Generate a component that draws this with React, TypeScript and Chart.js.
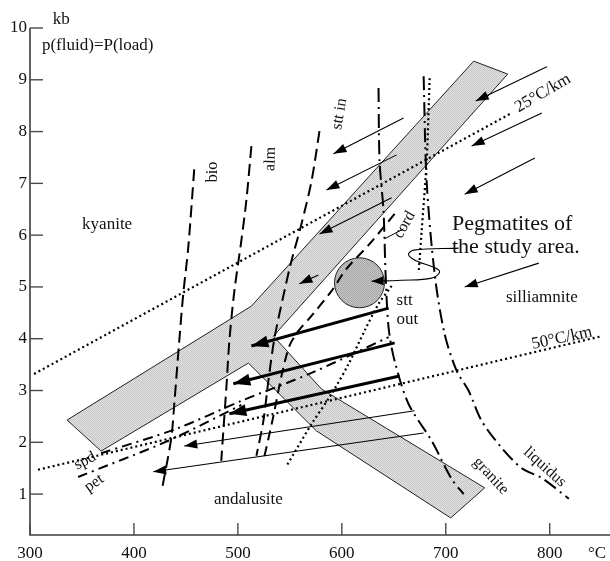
import React, { useEffect, useRef } from 'react';
import { Chart, registerables } from 'chart.js';

Chart.register(...registerables);

type Pt = [number, number];

// ---- axes ----
const X_MIN = 300;
const X_MAX = 858;
const Y_MIN = 0.21;
const Y_MAX = 10;
const xTickValues = [300, 400, 500, 600, 700, 800];
const yTickValues = [1, 2, 3, 4, 5, 6, 7, 8, 9, 10];

// ---- data (T in °C, P in kb) ----
// union of the two grey aluminosilicate bands
const aluminosilicateBands: Pt[] = [
  [335.7, 2.43], [513.0, 4.63], [726.9, 9.36], [759.6, 9.11], [534.2, 4.05],
  [580.4, 3.03], [737.5, 1.12], [704.7, 0.54], [575.6, 2.22], [510.1, 3.53],
  [368.4, 1.83], [335.7, 2.43],
];
const pegmatiteCircle: Pt = [617.0, 5.08];

const geotherm25: Pt[] = [[303.9, 3.32], [763.5, 8.36]];
const geotherm50: Pt[] = [[307.7, 1.47], [850.2, 4.05]];

const bioIsograd: Pt[] = [[458.0, 7.27], [452.2, 5.75], [447.4, 4.86], [443.6, 3.96], [438.8, 2.74], [435.9, 2.08], [427.2, 1.12]];
const almIsograd: Pt[] = [[513.0, 7.72], [508.1, 6.66], [503.3, 5.89], [496.6, 4.92], [491.8, 3.96], [488.9, 3.05], [486.0, 2.22], [484.0, 1.64]];
const sttInIsograd: Pt[] = [[578.5, 8.01], [570.8, 7.04], [561.1, 6.21], [551.5, 5.5], [544.8, 4.92], [535.1, 4.0], [529.3, 3.18], [524.5, 2.41], [517.8, 1.74]];
const cordCurve: Pt[] = [[650.8, 6.41], [626.7, 5.83], [604.5, 5.35], [590.0, 4.92], [570.8, 4.44], [558.2, 4.15], [549.6, 3.86], [541.9, 3.28], [534.2, 2.51], [524.5, 1.64]];
const graniteSolidus: Pt[] = [[635.3, 8.84], [636.3, 7.43], [640.1, 6.47], [642.1, 5.25], [645.0, 4.21], [650.8, 3.57], [664.2, 2.74], [686.4, 2.03], [705.7, 1.29], [717.2, 1.0]];
const liquidus: Pt[] = [[678.7, 9.07], [681.6, 7.04], [689.3, 5.25], [698.9, 4.09], [710.5, 3.38], [722.1, 2.99], [734.6, 2.41], [753.9, 1.89], [773.1, 1.5], [792.4, 1.31], [818.4, 0.91]];
const muscoviteUpper: Pt[] = [[684.5, 9.03], [681.6, 7.43], [676.8, 6.08], [673.9, 5.27]];
const muscoviteLower: Pt[] = [[647.9, 5.02], [635.3, 4.67], [621.8, 4.15], [606.4, 3.51], [590.0, 2.93], [570.8, 2.35], [546.7, 1.54]];
const spdCurve: Pt[] = [[368.4, 1.79], [440.7, 2.26], [503.3, 2.8], [570.8, 3.34], [645.0, 4.03]];
const petCurve: Pt[] = [[346.3, 1.33], [433.0, 2.03], [503.3, 2.72]];
const cordLeader: Pt[] = [[641.1, 5.93], [659.4, 6.12]];
const pegmatiteLeader: Pt[] = [[712.4, 5.75], [669.1, 5.71], [664.2, 5.62], [672.0, 5.5], [688.3, 5.38], [694.1, 5.29], [686.4, 5.17], [657.5, 5.13], [628.6, 5.11]];

const thinArrows: Pt[][] = [
  [[797.2, 9.25], [728.8, 8.59]],
  [[792.4, 8.36], [724.9, 7.72]],
  [[785.7, 7.49], [718.2, 6.79]],
  [[659.4, 8.26], [592.0, 7.57]],
  [[652.7, 7.55], [585.2, 6.87]],
  [[647.9, 6.72], [578.5, 6.02]],
  [[577.5, 5.23], [559.2, 5.06]],
  [[789.5, 5.46], [718.2, 5.0]],
  [[670.0, 2.61], [448.4, 1.93]],
  [[678.7, 2.18], [418.5, 1.43]],
];
const thickArrows: Pt[][] = [
  [[645.0, 4.59], [513.0, 3.86]],
  [[650.8, 3.92], [495.6, 3.13]],
  [[655.6, 3.28], [491.8, 2.55]],
];

type Note = { text: string; t: number; p: number; rot?: number; size?: number; align?: CanvasTextAlign };
const notes: Note[] = [
  { text: 'kb', t: 330, p: 10.17 },
  { text: 'p(fluid)=P(load)', t: 311.5, p: 9.67, align: 'left' },
  { text: 'kyanite', t: 374.2, p: 6.21 },
  { text: 'andalusite', t: 510.1, p: 0.89 },
  { text: 'silliamnite', t: 792.4, p: 4.79 },
  { text: 'stt', t: 652.7, p: 4.73, align: 'left' },
  { text: 'out', t: 652.7, p: 4.38, align: 'left' },
  { text: 'Pegmatites of', t: 706.0, p: 6.21, size: 22, align: 'left' },
  { text: 'the study area.', t: 706.0, p: 5.77, size: 22, align: 'left' },
  { text: 'bio', t: 475.4, p: 7.22, rot: -90, size: 16 },
  { text: 'alm', t: 531.3, p: 7.47, rot: -88, size: 16 },
  { text: 'stt in', t: 597.8, p: 8.34, rot: -80, size: 16 },
  { text: 'cord', t: 660.4, p: 6.2, rot: -60, size: 16 },
  { text: 'spd', t: 353.0, p: 1.64, rot: -28, size: 16 },
  { text: 'pet', t: 361.7, p: 1.21, rot: -35, size: 16 },
  { text: '25°C/km', t: 793.4, p: 8.74, rot: -30 },
  { text: '50°C/km', t: 811.7, p: 4.01, rot: -12 },
  { text: 'liquidus', t: 795.3, p: 1.52, rot: 42, size: 16 },
  { text: 'granite', t: 743.3, p: 1.35, rot: 47, size: 16 },
  { text: '°C', t: 845.5, p: -0.14 },
];

const FONT = 'Liberation Serif';

const overlay = {
  id: 'overlay',
  afterDatasetsDraw(chart: any) {
    const { ctx, chartArea: a, scales } = chart;
    const xs = scales.x;
    const ys = scales.y;
    ctx.save();
    // axis lines + inward ticks
    ctx.strokeStyle = '#3c3c3c';
    ctx.lineWidth = 1.6;
    ctx.beginPath();
    ctx.moveTo(a.left, a.top);
    ctx.lineTo(a.left, a.bottom);
    ctx.lineTo(a.right, a.bottom);
    ctx.stroke();
    ctx.lineWidth = 1.4;
    ctx.strokeStyle = '#4a4a4a';
    xTickValues.forEach((v) => {
      const px = xs.getPixelForValue(v);
      ctx.beginPath();
      ctx.moveTo(px, a.bottom);
      ctx.lineTo(px, a.bottom - 12);
      ctx.stroke();
    });
    yTickValues.forEach((v) => {
      const py = ys.getPixelForValue(v);
      ctx.beginPath();
      ctx.moveTo(a.left, py);
      ctx.lineTo(a.left + 13, py);
      ctx.stroke();
    });
    // arrow heads
    chart.data.datasets.forEach((ds: any, i: number) => {
      if (!ds.head) return;
      const pts = chart.getDatasetMeta(i).data;
      const p1 = pts[pts.length - 2];
      const p2 = pts[pts.length - 1];
      const ang = Math.atan2(p2.y - p1.y, p2.x - p1.x);
      const [len, half] = ds.head;
      const bx = p2.x - len * Math.cos(ang);
      const by = p2.y - len * Math.sin(ang);
      ctx.fillStyle = '#000';
      ctx.beginPath();
      ctx.moveTo(p2.x, p2.y);
      ctx.lineTo(bx + half * Math.sin(ang), by - half * Math.cos(ang));
      ctx.lineTo(bx - half * Math.sin(ang), by + half * Math.cos(ang));
      ctx.closePath();
      ctx.fill();
    });
    // text
    ctx.fillStyle = '#111';
    ctx.textBaseline = 'middle';
    notes.forEach((n) => {
      const px = xs.getPixelForValue(n.t);
      const py = ys.getPixelForValue(n.p);
      ctx.save();
      ctx.translate(px, py);
      ctx.rotate(((n.rot || 0) * Math.PI) / 180);
      ctx.font = `${n.size || 17}px "${FONT}"`;
      ctx.textAlign = n.align || 'center';
      ctx.fillText(n.text, 0, 0);
      ctx.restore();
    });
    ctx.restore();
  },
};

export default function App() {
  const ref = useRef<HTMLCanvasElement>(null);
  useEffect(() => {
    document.body.style.margin = '0';
    const canvas = ref.current!;
    const mk = (base: string, dot: string) => {
      const c = document.createElement('canvas');
      c.width = 2;
      c.height = 2;
      const g = c.getContext('2d')!;
      g.fillStyle = base;
      g.fillRect(0, 0, 2, 2);
      g.fillStyle = dot;
      g.fillRect(0, 0, 1, 1);
      g.fillRect(1, 1, 1, 1);
      return canvas.getContext('2d')!.createPattern(c, 'repeat')!;
    };
    const bandFill = mk('#e4e4e4', '#c4c4c4');
    const circleFill = mk('#c8c8c8', '#a4a4a4');
    const toXY = (pts: Pt[]) => pts.map(([x, y]) => ({ x, y }));
    const curve = (pts: Pt[], dash: number[], width = 2, extra: any = {}) => ({
      type: 'line',
      data: toXY(pts),
      borderColor: '#000',
      backgroundColor: '#000',
      borderWidth: width,
      borderDash: dash,
      pointRadius: 0,
      fill: false,
      tension: 0.3,
      order: 1,
      ...extra,
    });

    const datasets: any[] = [
      {
        type: 'line',
        data: toXY(aluminosilicateBands),
        borderColor: '#222',
        borderWidth: 1,
        backgroundColor: bandFill,
        fill: 'shape',
        pointRadius: 0,
        tension: 0,
        order: 10,
      },
      {
        type: 'bubble',
        data: [{ x: pegmatiteCircle[0], y: pegmatiteCircle[1], r: 25 }],
        backgroundColor: circleFill,
        borderColor: '#222',
        borderWidth: 1,
        order: 5,
      },
      curve(geotherm25, [2, 3], 2.2, { tension: 0 }),
      curve(geotherm50, [2, 3], 2.2, { tension: 0 }),
      curve(bioIsograd, [12, 6]),
      curve(almIsograd, [12, 6]),
      curve(sttInIsograd, [12, 6]),
      curve(cordCurve, [10, 6]),
      curve(graniteSolidus, [14, 5, 2, 5]),
      curve(liquidus, [14, 5, 2, 5]),
      curve(muscoviteUpper, [2, 3], 2.2),
      curve(muscoviteLower, [2, 3], 2.2),
      curve(spdCurve, [10, 5, 2, 5]),
      curve(petCurve, [10, 5, 2, 5]),
      curve(cordLeader, [], 1, { tension: 0 }),
      curve(pegmatiteLeader, [], 1.1, { tension: 0.4, head: [12, 4.5] }),
      ...thinArrows.map((a) => curve(a, [], 1.1, { tension: 0, head: [13, 4.5] })),
      ...thickArrows.map((a) => curve(a, [], 3, { tension: 0, head: [17, 6] })),
    ];

    const tickFont = { family: FONT, size: 17 };
    const chart = new Chart(canvas, {
      type: 'line',
      data: { datasets },
      options: {
        responsive: false,
        animation: false,
        devicePixelRatio: 1,
        events: [],
        layout: { autoPadding: false, padding: { top: 28, left: 0, right: 0, bottom: 0 } },
        plugins: { legend: { display: false }, tooltip: { enabled: false } },
        scales: {
          x: {
            type: 'linear',
            min: X_MIN,
            max: X_MAX,
            afterFit: (s: any) => {
              s.height = 26;
              s.paddingLeft = 0;
              s.paddingRight = 0;
            },
            afterBuildTicks: (s: any) => {
              s.ticks = xTickValues.map((v) => ({ value: v }));
            },
            grid: { display: false, drawTicks: false },
            border: { display: false },
            ticks: { padding: 8, color: '#111', font: tickFont, maxRotation: 0, autoSkip: false },
          },
          y: {
            type: 'linear',
            min: Y_MIN,
            max: Y_MAX,
            afterFit: (s: any) => {
              s.width = 30;
              s.paddingTop = 0;
              s.paddingBottom = 0;
            },
            afterBuildTicks: (s: any) => {
              s.ticks = yTickValues.map((v) => ({ value: v }));
            },
            grid: { display: false, drawTicks: false },
            border: { display: false },
            ticks: { padding: 3, color: '#111', font: tickFont, autoSkip: false },
          },
        },
      } as any,
      plugins: [overlay],
    });
    return () => chart.destroy();
  }, []);
  return (
    <div style={{ position: 'fixed', left: 0, top: 0, width: 610, height: 561, background: '#fff' }}>
      <canvas ref={ref} width={610} height={561} style={{ display: 'block', width: 610, height: 561 }} />
    </div>
  );
}
